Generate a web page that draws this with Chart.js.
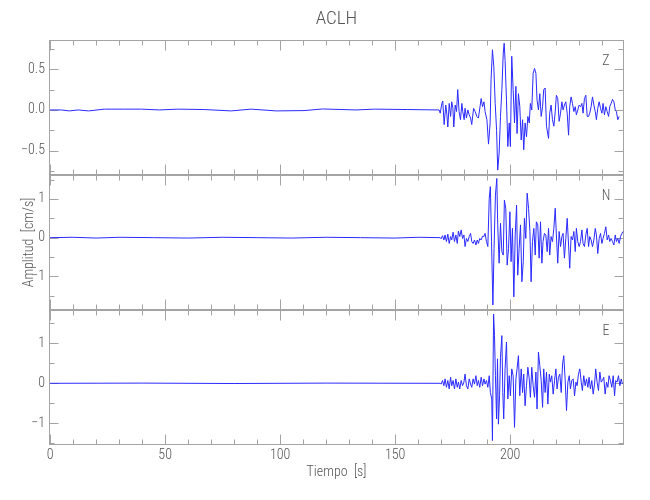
<!DOCTYPE html>
<html>
<head>
<meta charset="utf-8">
<title>ACLH</title>
<script src="https://cdn.jsdelivr.net/npm/chart.js@4.4.1/dist/chart.umd.min.js"></script>
<style>
    html, body { margin: 0; padding: 0; background: #fff; }
    #wrap { position: relative; width: 650px; height: 500px; }
</style>
</head>
<body>
<div id="wrap"><canvas id="seis" width="650" height="500"></canvas></div>
<script>
// --- data (time in s, amplitude in cm/s) ---
const stationName = 'ACLH';
const components = ['Z', 'N', 'E'];
const xTickLabels = [0, 50, 100, 150, 200];
const zTickLabels = [-0.5, 0, 0.5];
const nTickLabels = [-1, 0, 1];
const eTickLabels = [-1, 0, 1];
const xRange = [-0.5, 249.5];
const zRange = [-0.80, 0.86];
const nRange = [-1.87, 1.62];
const eRange = [-1.54, 1.83];

const zTime = [0, 4.8, 8.3, 12.2, 16.7, 23.6, 32.0, 39.6, 47.5, 55.5, 67.0, 78.7, 87.4, 98.3, 110.4, 118.5, 133.0, 141.0, 155.5, 168.6,
    169.1, 169.6, 170.3, 170.7, 171.3, 172.0, 172.5, 172.9, 173.5, 174.1, 174.6, 175.1, 175.5, 176.1, 176.7, 177.2, 177.8, 178.4, 179.0, 179.4,
    180.0, 180.4, 181.0, 181.6, 182.2, 182.8, 183.3, 184.1, 184.8, 185.5, 186.2, 187.0, 187.4, 188.0, 188.6, 189.1, 189.9, 190.6, 191.3, 191.7,
    192.3, 192.9, 193.5, 194.1, 194.6, 195.2, 195.8, 196.4, 197.0, 197.4, 197.8, 198.4, 199.0, 199.6, 200.1, 200.7, 201.3, 201.9, 202.5, 203.0,
    203.6, 204.2, 204.8, 205.4, 205.9, 206.5, 207.1, 207.7, 208.3, 208.8, 209.4, 210.0, 210.6, 211.2, 211.7, 212.3, 212.9, 213.5, 214.1, 214.6,
    215.2, 215.8, 216.7, 217.2, 217.8, 218.4, 219.0, 219.6, 220.1, 220.7, 221.3, 221.9, 222.5, 223.0, 223.6, 224.2, 224.8, 225.4, 225.9, 226.5,
    227.1, 227.7, 228.3, 228.8, 229.4, 230.0, 230.6, 231.2, 231.7, 232.3, 232.9, 233.5, 234.1, 234.6, 235.2, 235.8, 236.4, 237.0, 237.5, 238.1,
    238.7, 239.3, 239.9, 240.4, 241.0, 241.6, 242.2, 242.8, 243.3, 243.9, 244.5, 245.1, 245.7, 246.2, 246.8, 247.4];
const zAmp = [0, 0, -0.012, 0, -0.012, 0.01, 0.01, 0.01, 0, 0.01, 0.005, -0.012, 0.01, -0.012, -0.008, 0.012, 0, 0.01, 0.005, 0,
    0.00, -0.04, 0.08, 0.11, -0.18, 0.06, -0.06, -0.21, 0.08, -0.08, 0.10, 0.02, -0.21, 0.06, -0.02, 0.25, -0.02, -0.12, 0.08, -0.02,
    -0.12, 0.02, -0.10, 0.00, -0.06, -0.10, -0.18, 0.02, -0.02, -0.08, -0.10, 0.06, 0.14, 0.04, 0.10, -0.02, -0.12, -0.42, -0.16, 0.37,
    0.74, 0.53, 0.08, -0.25, -0.74, -0.53, -0.08, 0.25, 0.70, 0.82, 0.61, 0.12, -0.45, -0.16, -0.45, 0.66, 0.25, -0.16, 0.29, -0.29,
    0.20, 0.04, -0.37, -0.12, -0.49, -0.16, -0.33, -0.08, -0.16, 0.08, 0.00, 0.45, 0.51, 0.45, 0.12, 0.00, 0.20, -0.08, 0.04, 0.25,
    0.27, -0.20, -0.35, -0.04, 0.06, -0.12, -0.20, -0.02, 0.18, 0.14, -0.14, -0.04, 0.10, 0.00, 0.06, 0.10, -0.04, -0.31, 0.04, 0.16,
    0.08, -0.02, 0.04, -0.06, 0.00, 0.06, 0.04, 0.08, -0.04, 0.14, 0.18, -0.08, -0.08, -0.04, 0.04, 0.16, 0.06, -0.02, -0.12, 0.02,
    0.10, 0.02, -0.04, 0.08, -0.06, 0.04, -0.02, -0.08, 0.04, 0.08, 0.13, 0.10, 0.00, -0.02, -0.12, -0.08];

const nTime = [0, 10, 20, 30, 45, 60, 75, 90, 105, 120, 135, 150, 160, 169.6,
    170.0, 170.6, 171.2, 171.7, 172.3, 172.9, 173.5, 174.1, 174.6, 175.2, 175.8, 176.4, 177.0, 177.5, 178.1, 178.7, 179.3, 179.9, 180.4, 181.0,
    181.6, 182.2, 182.8, 183.3, 183.9, 184.5, 185.1, 185.7, 186.2, 186.8, 187.4, 188.0, 188.6, 189.1, 189.7, 190.3, 190.9, 191.4,
    191.9, 192.5, 193.0, 193.6, 194.2, 194.6,
    195.2, 195.8, 196.4, 197.0, 197.5, 198.1, 198.7, 199.3, 199.9, 200.4, 201.0, 201.6, 202.2, 202.8, 203.3, 203.9, 204.5, 205.1, 205.7, 206.2,
    206.8, 207.4, 208.0, 208.6, 209.1, 209.7, 210.3, 210.9, 211.4, 212.0, 212.6, 213.2, 213.8, 214.3, 214.9, 215.5, 216.1, 216.7, 217.2, 217.8,
    218.4, 219.0, 219.6, 220.1, 220.7, 221.3, 221.9, 222.5, 223.0, 223.6, 224.2, 224.8, 225.4, 225.9, 226.5, 227.1, 227.7, 228.3, 228.8, 229.4,
    230.0, 230.6, 231.2, 231.7, 232.3, 232.9, 233.5, 234.1, 234.6, 235.2, 235.8, 236.4, 237.0, 237.5, 238.1, 238.7, 239.3, 239.9, 240.4, 241.0,
    241.6, 242.2, 242.8, 243.3, 243.9, 244.5, 245.1, 245.7, 246.2, 246.8, 247.4, 248.0, 248.6, 249.1];
const nAmp = [0, 0.01, -0.01, 0.01, 0, -0.01, 0.01, 0, -0.01, 0.01, 0, -0.01, 0.01, 0,
    -0.03, 0.05, -0.06, 0.07, -0.10, 0.09, -0.15, 0.03, -0.06, 0.14, -0.10, 0.07, -0.15, 0.17, 0.03, 0.20, -0.02, 0.07, -0.23, -0.02,
    -0.10, 0.03, 0.11, -0.10, -0.15, -0.06, -0.19, -0.06, -0.15, -0.02, -0.06, 0.04, 0.03, 0.11, -0.10, -0.23, 1.02, 1.32,
    -0.10, -1.74, -0.28, 1.10, 1.53, 0.33,
    -0.66, 0.37, -0.36, -0.45, 0.97, 0.76, -0.71, -0.28, 0.67, -0.62, 0.24, -1.53, 0.07, 0.84, -0.97, -0.28, 0.33, -1.14, -0.62, 0.50,
    -0.02, 1.15, 0.76, 0.16, -1.14, -0.10, 0.24, -0.45, 0.41, 0.33, -0.53, 0.41, -0.66, -0.10, 0.11, 0.07, -0.36, 0.24, -0.45, 0.03,
    -0.10, 0.24, 0.76, 0.07, -0.66, 0.16, -0.23, 0.03, 0.11, -0.53, -0.02, 0.50, -0.19, -0.79, 0.03, -0.06, 0.16, -0.36, 0.24, -0.10,
    -0.23, -0.10, 0.20, -0.15, -0.23, 0.07, 0.24, -0.23, 0.03, -0.06, -0.23, -0.06, 0.24, 0.07, -0.41, -0.02, 0.11, -0.15, -0.02, 0.11,
    0.28, -0.06, 0.07, -0.10, -0.02, -0.10, -0.19, 0.07, -0.10, -0.02, -0.15, 0.03, 0.11, 0.16];

const eTime = [0, 40, 80, 120, 169.6,
    170.0, 170.6, 171.2, 171.7, 172.3, 172.9, 173.5, 174.1, 174.6, 175.2, 175.8, 176.4, 177.0, 177.5, 178.1, 178.7, 179.3, 179.9, 180.4, 181.0,
    181.6, 182.2, 182.8, 183.3, 183.9, 184.5, 185.1, 185.7, 186.2, 186.8, 187.4, 188.0, 188.6, 189.1, 189.7, 190.3, 190.9, 191.4,
    192.0, 192.3, 192.8, 193.2, 193.6, 194.1, 194.5, 194.9, 195.4, 195.8, 196.4, 196.8, 197.2,
    197.8, 198.4, 199.0, 199.6, 200.1, 200.7, 201.3, 201.9, 202.5, 203.0, 203.6, 204.2, 204.8, 205.4, 205.9, 206.5, 207.1, 207.7, 208.3, 208.8,
    209.4, 210.0, 210.6, 211.2, 211.7, 212.3, 212.9, 213.5, 214.1, 214.6, 215.2, 215.8, 216.4, 217.0, 217.5, 218.1, 218.7, 219.3, 219.9, 220.4,
    221.0, 221.6, 222.2, 222.8, 223.3, 223.9, 224.5, 225.1, 225.7, 226.2, 226.8, 227.4, 228.0, 228.6, 229.1, 229.7, 230.3, 230.9, 231.4, 232.0,
    232.6, 233.2, 233.8, 234.3, 234.9, 235.5, 236.1, 236.7, 237.2, 237.8, 238.4, 239.0, 239.6, 240.1, 240.7, 241.3, 241.9, 242.5, 243.0, 243.6,
    244.2, 244.8, 245.4, 245.9, 246.5, 247.1, 247.7, 248.3, 248.8];
const eAmp = [0, 0.005, -0.005, 0.005, 0,
    -0.02, 0.07, -0.06, 0.11, -0.10, 0.07, -0.14, 0.15, -0.06, 0.07, -0.14, 0.11, -0.10, 0.03, -0.14, 0.07, -0.06, 0.03, 0.23, -0.06,
    -0.14, 0.11, -0.02, -0.10, 0.11, -0.02, 0.19, -0.06, 0.07, -0.10, 0.15, -0.06, 0.11, -0.02, 0.07, -0.10, 0.19, -0.23,
    -0.39, -1.43, 1.73, 1.19, 0.19, -0.89, 0.61, -1.02, -0.31, 0.65, 1.19, -0.23, -0.89,
    0.36, 1.03, -0.39, 0.19, -0.31, 0.36, 0.19, -1.10, 0.11, 0.36, 0.69, -0.31, 0.36, -0.23, 0.23, -0.56, -0.06, 0.40, 0.11, -0.35,
    0.40, -0.06, -0.35, 0.28, -0.64, 0.78, 0.44, 0.07, -0.60, 0.36, -0.23, 0.28, -0.52, 0.23, 0.03, 0.19, -0.27, 0.07, 0.36, -0.14,
    0.15, 0.23, -0.23, 0.48, 0.69, 0.11, -0.68, 0.03, 0.19, -0.14, 0.07, 0.11, -0.31, 0.03, -0.06, 0.23, 0.36, 0.03, -0.18, 0.19,
    -0.06, 0.11, -0.10, 0.15, -0.14, 0.07, -0.27, -0.02, 0.36, 0.03, -0.18, 0.28, 0.03, 0.07, 0.15, -0.27, 0.03, -0.10, 0.19, 0.07,
    -0.10, 0.19, -0.31, 0.07, 0.03, 0.19, -0.06, 0.11, -0.02];

// --- look ---
const FONT = "'Roboto Condensed', 'DejaVu Sans Condensed', sans-serif";
const WEIGHT = 300;
const TEXT = '#555555';
const AXIS = '#a4a4a4';
const TRACE = '#2a2aff';

function toPoints(t, a) {
    return t.map((x, i) => ({ x: x, y: a[i] }));
}

function fmtZ(v) {
    return v === 0 ? '0.0' : v.toFixed(1).replace('-', '\u2212');
}
function fmtInt(v) {
    return String(v).replace('-', '\u2212');
}

function yScale(range, ticks, fmt) {
    return {
        type: 'linear',
        position: 'left',
        stack: 'comp',
        stackWeight: 1,
        offset: false,
        min: range[0],
        max: range[1],
        grid: { display: false, drawTicks: false },
        border: { display: false },
        ticks: { color: TEXT, font: { family: FONT, size: 14, weight: WEIGHT }, padding: 4, callback: fmt },
        afterBuildTicks: s => { s.ticks = ticks.map(v => ({ value: v })); },
        afterFit: s => { s.width = 49; }
    };
}

// minor / major tick steps for the inward ticks of every panel
const yTickSteps = { yZ: [0.25, 0.5], yN: [0.5, 1], yE: [0.5, 1] };
const xTickSteps = [10, 50];

const framePlugin = {
    id: 'frames',
    beforeDatasetsDraw(chart) {
        const { ctx, chartArea: a, scales } = chart;
        const x = scales.x;
        const L = Math.round(a.left) + 0.5, R = Math.round(a.right) - 0.5;
        ctx.save();
        ctx.strokeStyle = AXIS;
        ctx.lineWidth = 1;
        ['yZ', 'yN', 'yE'].forEach(id => {
            const s = scales[id];
            const T = Math.round(s.top) + 0.5, B = Math.round(s.bottom) - 0.5;
            ctx.strokeRect(L, T, R - L, B - T);
            ctx.beginPath();
            // time ticks, top and bottom edge, pointing in
            for (let t = 0; t <= xRange[1]; t += xTickSteps[0]) {
                const px = Math.round(x.getPixelForValue(t)) + 0.5;
                const len = t % xTickSteps[1] === 0 ? 10 : 5;
                ctx.moveTo(px, T); ctx.lineTo(px, T + len);
                ctx.moveTo(px, B); ctx.lineTo(px, B - len);
            }
            // amplitude ticks, left and right edge, pointing in
            const [minor, major] = yTickSteps[id];
            for (let v = Math.ceil(s.min / minor) * minor; v <= s.max; v += minor) {
                const py = Math.round(s.getPixelForValue(v)) + 0.5;
                const isMajor = Math.abs(v / major - Math.round(v / major)) < 1e-6;
                const len = isMajor ? 9 : 5;
                ctx.moveTo(L, py); ctx.lineTo(L + len, py);
                ctx.moveTo(R, py); ctx.lineTo(R - len, py);
            }
            ctx.stroke();
        });
        ctx.restore();
    },
    afterDraw(chart) {
        const { ctx, chartArea: a, scales } = chart;
        ctx.save();
        ctx.fillStyle = TEXT;
        ctx.textAlign = 'center';
        ctx.textBaseline = 'middle';
        ctx.font = `${WEIGHT} 19px ${FONT}`;
        ctx.fillText(stationName, (a.left + a.right) / 2, 19);
        ctx.font = `${WEIGHT} 14px ${FONT}`;
        ['yZ', 'yN', 'yE'].forEach((id, k) => {
            ctx.fillText(components[k], a.right - 18, scales[id].top + 21);
        });
        const n = scales.yN;
        ctx.translate(29, (n.top + n.bottom) / 2);
        ctx.rotate(-Math.PI / 2);
        ctx.fillText('Amplitud  [cm/s]', 0, 0);
        ctx.restore();
    }
};

function trace(label, t, a, axis) {
    return {
        label: label,
        data: toPoints(t, a),
        yAxisID: axis,
        borderColor: TRACE,
        borderWidth: 1,
        pointRadius: 0,
        tension: 0,
        fill: false
    };
}

new Chart(document.getElementById('seis'), {
    type: 'line',
    data: {
        datasets: [
            trace('Z', zTime, zAmp, 'yZ'),
            trace('N', nTime, nAmp, 'yN'),
            trace('E', eTime, eAmp, 'yE')
        ]
    },
    options: {
        responsive: false,
        animation: false,
        events: [],
        parsing: false,
        layout: { padding: { top: 40, right: 26, bottom: 15, left: 0 } },
        plugins: { legend: { display: false }, tooltip: { enabled: false }, title: { display: false } },
        scales: {
            x: {
                type: 'linear',
                position: 'bottom',
                min: xRange[0],
                max: xRange[1],
                grid: { display: false, drawTicks: false },
                border: { display: false },
                ticks: { color: TEXT, font: { family: FONT, size: 14, weight: WEIGHT }, padding: 2, maxRotation: 0, autoSkip: false },
                afterBuildTicks: s => { s.ticks = xTickLabels.map(v => ({ value: v })); },
                afterFit: s => { s.height = 40; },
                title: { display: true, text: 'Tiempo  [s]', color: TEXT, font: { family: FONT, size: 14, weight: WEIGHT }, padding: { top: 0, bottom: 4 } }
            },
            // listed bottom first: the last left axis in a stack ends up on top
            yE: yScale(eRange, eTickLabels, fmtInt),
            yN: yScale(nRange, nTickLabels, fmtInt),
            yZ: yScale(zRange, zTickLabels, fmtZ)
        }
    },
    plugins: [framePlugin]
});
</script>
</body>
</html>
